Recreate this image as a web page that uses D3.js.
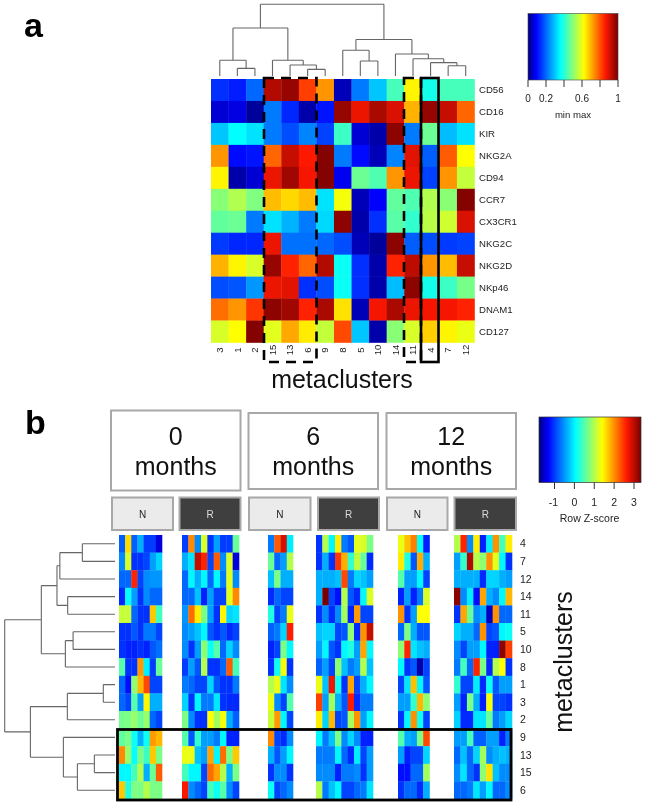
<!DOCTYPE html>
<html><head><meta charset="utf-8">
<script src="https://cdn.jsdelivr.net/npm/d3@7/dist/d3.min.js"></script>
<style>html,body{margin:0;padding:0;background:#fff}svg{display:block;filter:blur(0.35px)}text{font-family:"Liberation Sans",Arial,sans-serif}</style>
</head><body><svg id="c" width="645" height="806"></svg>
<script>
// ---------- Panel a data ----------
const markers = ["CD56","CD16","KIR","NKG2A","CD94","CCR7","CX3CR1","NKG2C","NKG2D","NKp46","DNAM1","CD127"];
const colsA = ["3","1","2","15","13","6","9","8","5","10","14","11","4","7","12"];
const valuesA = [
 [.14,.12,.2,.94,.97,.82,.73,.04,.22,.3,.43,.63,.38,.43,.43],
 [.06,.07,.02,.22,.13,.03,.11,.97,.88,.95,.9,.7,.97,.92,.78],
 [.3,.36,.33,.22,.17,.23,.16,.42,.06,.03,.98,.22,.47,.29,.33],
 [.73,.1,.11,.78,.92,.86,.99,.22,.1,.04,.23,.89,.19,.79,.62],
 [.63,.03,.06,.88,.96,.87,.99,.08,.47,.44,.73,.88,.16,.73,.56],
 [.5,.54,.49,.69,.66,.69,.33,.61,.04,.09,.46,.44,.54,.5,.99],
 [.46,.47,.22,.33,.28,.22,.32,.98,.03,.14,.45,.41,.55,.57,.9],
 [.15,.13,.13,.88,.21,.21,.2,.17,.04,.02,.98,.19,.17,.15,.16],
 [.7,.63,.58,.97,.85,.78,.94,.37,.14,.03,.85,.93,.73,.69,.92],
 [.17,.18,.25,.88,.89,.14,.17,.37,.14,.03,.29,.98,.38,.42,.48],
 [.77,.73,.83,.98,.96,.85,.95,.65,.04,.87,.95,.88,.87,.87,.85],
 [.58,.62,.99,.59,.71,.64,.56,.81,.3,.03,.5,.58,.67,.63,.6]
];
// dendrogram nodes: [height, left, right]; leaves are labels
const treeA = [10,
 [6.7,[2.2,"3",[1.07,"1","2"]],[2.2,"15",[1.53,"13",[.93,"6","9"]]]],
 [5.1,[3.6,"8",[2.1,"5","10"]],[3.07,"14",[2.4,"11",[1.86,"4",[1.44,"7","12"]]]]]];
const legendATicks = [0,.2,.4,.6,.8,1];
const legendALabels = {0:"0",.2:"0.2",.6:"0.6",1:"1"};

// ---------- Panel b data ----------
const rowsB = ["4","7","12","14","11","5","10","8","1","3","2","9","13","15","6"];
const treeB = [10,
 [6.68,[5.26,[5.0,[2.96,"4","7"],"12"],[4.29,"14","11"]],[4.5,[3.8,"5","10"],"8"]],
 [7.67,[4.32,[1.06,"1","3"],"2"],[4.68,"9",[3.41,[1.87,"13","15"],"6"]]]];
const month0N = [
 [-.85,1.6,-.85,-.4,-1.05,-1.05,-1.5],[-.6,1.2,-1.1,-1.1,-1,-.5,-.2],[-.8,-.8,2.6,-1,-.6,-.55,-.55],
 [-1.15,.05,-.5,-1.1,-.6,-.8,-.8],[1.1,1.1,-.8,-1.1,-1.1,1.7,.4],[-1.1,-1.1,-.9,-1.1,-.7,-.7,-1],
 [-1.1,-1.2,-1.2,-1.1,-1.2,-.9,-.75],[.5,-1.1,-1.1,1.95,-.05,-1.05,.6],[-.8,-1.3,.8,1.8,2.4,-1,-1],
 [-.8,-1,.5,-.5,1.45,-.4,-.4],[.65,.7,.85,.6,.85,-.8,-1],[.55,.7,.1,-.4,.1,1.95,1.8],
 [2.05,.85,.05,.7,.35,1.7,.7],[0,0,.4,1,-.4,.6,2.3],[1.7,.2,.7,.7,1,.7,.7]];
const month0R = [
 [-1.05,2.05,-.6,1.2,-1.1,-.5,-1.05,-1.05,.6],[-.4,-.1,3,2.6,-1,2.3,-.6,1.2,-1.5],[-.8,0,-.4,0,-.8,0,-.7,1.25,-.6],
 [-.8,-.8,-.3,-1.2,-.5,-1,-1,1.25,2.05],[-.55,2.2,1.5,.7,-.5,-1.1,1.45,-.2,-.1],[-.6,-.5,-.3,0,-.9,-1.1,-.9,-1.15,-1],
 [-.6,-1.1,-.5,.8,.1,.5,-.8,-.2,-.6],[-1.05,-.5,-.9,1,-1.1,-1.1,-.8,2.3,.4],[-.7,-.8,-1,-1,-.2,-.9,-1.1,-1.1,-.7],
 [-.2,-1.1,0,-.7,-.7,-.1,-1.1,-1.15,-1.15],[.7,-.6,-1.1,-1.1,1.4,.9,1.35,-.4,-.85],[.5,-.9,.3,-.5,-.5,-.7,0,-1.2,-1.2],
 [1.3,1.3,-.3,-.5,1.9,0,2.2,.7,1.7],[.4,0,0,-1,2.2,1.9,1,-.4,.7],[2.7,-.6,-.8,-1,.4,.1,.5,-.6,-1]];
const month6N = [
 [-.7,2.3,2.9,-.05],[.6,-.8,-.5,1],[-.3,.7,-.4,-.4],[-1.15,-.8,-1,-1],[.2,-1,-.7,1.3],[-.85,-.7,-.2,2.65],
 [-1.2,-1,.7,0],[-1.1,.1,1.35,-1.1],[1,1.3,-.1,-.6],[1.3,-.6,-1,.5],[1.1,1.95,0,-1],[2.05,-1,-1.15,-.6],
 [-.4,-.9,-.5,0],[-1.1,-.6,-.6,-1.1],[.1,-1,-.8,-.6]];
const month6R = [
 [-1.1,1,0,1.5,-.7,-.9,1.25,1.2,.7],[-1.1,-.4,-1.1,2.5,1.85,.3,1.05,.6,-1.15],[-.4,-.4,-.4,-.3,2.4,-.7,-.2,-.3,-.5],
 [-.4,3.4,-1,-1.3,1,-.9,-1.15,0,1.2],[-1.1,-.6,-1.15,-.6,.9,-1.2,1.95,-1,-1],[-.3,-.2,-.2,-1,-.9,.8,-1.15,2,3],
 [-.5,0,-.9,-1.1,0,.2,-.5,1.9,0],[-.85,-.5,-1,.8,-.3,-.7,-.5,1,-.3],[1.3,-.3,2.75,.1,-1.1,1.9,-1,-.4,0],
 [2.45,-.5,.9,-.4,-.9,2.65,-1.15,-.7,-.7],[1.5,-.2,1.8,-1,-.9,.9,2,-.5,0],[0,-.7,-.3,.7,-.6,-.2,-.6,-1.2,-1.2],
 [-.7,-.7,-.7,0,-.8,-1.15,-.05,-1,-.5],[-.6,-.6,-.6,-1.2,-.7,-.7,-.6,-1.1,-.5],[1,-.7,-.3,0,-1,-1,-.8,-.7,-.1]];
const month12N = [
 [1.3,1.75,2.1,.05,-1.2],[1.5,.2,-.9,1.85,-.4],[.5,-.5,-.5,0,-1],[-1.2,-.5,-1.2,-.7,1.2],[2,-1.1,-.5,1.4,1.4],
 [-.8,.7,-.4,-.9,-.9],[.8,2.6,-.1,-.3,-.4],[0,-1.1,-.9,-1.7,-1],[-1,-.1,1.75,0,-.9],[-.5,-.5,.3,1.8,.8],
 [-1.1,0,2,.1,-1],[.5,-.4,-.5,.7,2.4],[-.5,-1.2,-1,-1,-.2],[-1.3,-1.3,-.8,-.8,.9],[-1.1,-.8,-.8,-1.15,-.4]];
const month12R = [
 [1,2.6,-.6,1.5,-1.2,-.05,2,.4,1.5],[-.5,.3,3.1,1,.8,2,1.25,0,-1.1],[-.4,-.4,-.4,-.4,-1.15,-.2,-.2,-.4,-.5],
 [3.3,-.6,-.05,-1.3,1.9,-.4,-.6,0,1.8],[-1.1,1.9,.6,-.6,-.4,-1.6,2,-.8,-.8],[-.2,-.4,-.4,-.8,2,-1,-.9,0,.1],
 [-.6,-1,-.5,-.5,0,-1.2,-1.2,3.3,2.45],[-.7,.4,-.8,2.6,.7,-1.15,1,1.4,-1.1],[.3,-1,-1,-.05,-1.15,.1,-.9,-.5,-.5],
 [-.5,-1.2,.7,-.4,-1.2,1.35,-1,-1,-1.1],[-.2,-1.15,-1.15,-.1,-.1,.6,-.7,-.5,-.2],[-.5,-.5,.4,-.85,-.85,-.5,-.5,-1.2,-.7],
 [-.8,-.3,-.8,-.2,.9,-.6,-.4,-.3,-.4],[-.6,-.1,-.8,-1.1,.8,1.55,-.3,-.6,-.6],[-.8,-.8,-.7,-.1,-.5,0,-.8,-.8,-.6]];
const legendBTicks = [-1,0,1,2,3];
const monthLabels = ["0","6","12"];
const groupLabels = ["N","R"];

// ---------- helpers ----------
const svg = d3.select("#c");
const jetStops = [0,.09,.36,.62,.86,1];
const jetColors = ["#00007f","#0000ff","#00ffff","#ffff00","#ff1800","#7a0000"];
const jet = d3.scaleLinear().domain(jetStops).range(jetColors).clamp(true);
const zFrac = d3.scaleLinear().domain([-1.85,3.4]).range([0,1]);

function txt(x,y,s,size,o={}){
  return svg.append("text").attr("x",x).attr("y",y).text(s).attr("font-size",size)
    .attr("text-anchor",o.anchor||"middle").attr("fill",o.fill||"#222")
    .attr("font-weight",o.weight||"normal").attr("transform",o.rot?`rotate(${o.rot} ${x} ${y})`:null);
}
function gradient(id){
  const g = svg.append("defs").append("linearGradient").attr("id",id);
  jetStops.forEach((s,i)=>g.append("stop").attr("offset",s).attr("stop-color",jetColors[i]));
}
// Lay out a tree: pos(leaf) gives leaf coordinate; hpos(h) gives height coordinate.
function dendro(tree,pos,hpos,horizontal){
  const path = d3.path();
  const seg=(a,h1,b,h2)=>{ if(horizontal){path.moveTo(hpos(h1),a);path.lineTo(hpos(h2),b);} else {path.moveTo(a,hpos(h1));path.lineTo(b,hpos(h2));} };
  function walk(n){
    if(!Array.isArray(n)) return {c:pos(n),h:0};
    const l=walk(n[1]), r=walk(n[2]), h=n[0];
    seg(l.c,l.h,l.c,h); seg(r.c,r.h,r.c,h); seg(l.c,h,r.c,h);
    return {c:(l.c+r.c)/2,h};
  }
  walk(tree);
  svg.append("path").attr("d",path.toString()).attr("fill","none").attr("stroke","#666").attr("stroke-width",1.1);
}

// ---------- Panel a ----------
txt(24,37,"a",34,{anchor:"start",weight:"bold",fill:"#000"});
const xA = d3.scaleBand().domain(colsA).range([211,474.5]);
const yA = d3.scaleBand().domain(markers).range([79,342.5]);
markers.forEach((m,i)=>{
  svg.append("g").selectAll("rect").data(valuesA[i]).join("rect")
    .attr("x",(d,j)=>xA(colsA[j])).attr("y",yA(m)).attr("width",xA.bandwidth()+.3).attr("height",yA.bandwidth()+.3)
    .attr("fill",d=>jet(d));
  txt(479,yA(m)+yA.bandwidth()/2+3.5,m,9.6,{anchor:"start"});
});
colsA.forEach(c=>{
  const x=xA(c)+xA.bandwidth()/2+3.2;
  txt(x,350,c,9.6,{rot:-90});
});
const hA = d3.scaleLinear().domain([0,10]).range([76,4.3]);
dendro(treeA,l=>xA(l)+xA.bandwidth()/2,hA,false);

const dash="10,7";
svg.append("rect").attr("x",264).attr("y",78).attr("width",52.5).attr("height",284).attr("fill","none").attr("stroke","#000").attr("stroke-width",2.6).attr("stroke-dasharray",dash);
svg.append("rect").attr("x",404).attr("y",78).attr("width",17).attr("height",284).attr("fill","none").attr("stroke","#000").attr("stroke-width",2.6).attr("stroke-dasharray",dash);
svg.append("rect").attr("x",421).attr("y",78).attr("width",17.5).attr("height",284).attr("fill","none").attr("stroke","#000").attr("stroke-width",2.6);
txt(342,388,"metaclusters",25,{fill:"#111"});

// legend a
gradient("ga");
const la = d3.scaleLinear().domain([0,1]).range([528,618]);
svg.append("rect").attr("x",la(0)).attr("y",13.5).attr("width",la(1)-la(0)).attr("height",66.5).attr("fill","url(#ga)").attr("stroke","#444").attr("stroke-width",.6);
legendATicks.forEach(t=>{
  svg.append("line").attr("x1",la(t)).attr("x2",la(t)).attr("y1",80).attr("y2",87).attr("stroke","#333");
  if(legendALabels[t]) txt(la(t),102,legendALabels[t],10);
});
txt(573,118,"min max",9.6);

// ---------- Panel b ----------
txt(25,434,"b",34,{anchor:"start",weight:"bold",fill:"#000"});
const yB = d3.scaleBand().domain(rowsB).range([535,799]);
const blocks = [
  {v:month0N,r:[119,162]},{v:month0R,r:[182,239]},{v:month6N,r:[268,293]},
  {v:month6R,r:[316,373]},{v:month12N,r:[398,429.5]},{v:month12R,r:[454,512]}];
blocks.forEach(b=>{
  const x=d3.scaleBand().domain(d3.range(b.v[0].length)).range(b.r);
  rowsB.forEach((r,i)=>{
    svg.append("g").selectAll("rect").data(b.v[i]).join("rect")
      .attr("x",(d,j)=>x(j)).attr("y",yB(r)).attr("width",x.bandwidth()+.3).attr("height",yB.bandwidth()+.3)
      .attr("fill",d=>jet(zFrac(d)));
  });
});
rowsB.forEach(r=>txt(520,yB(r)+yB.bandwidth()/2+3.5,r,10.5,{anchor:"start"}));
const hB = d3.scaleLinear().domain([0,10]).range([115,4.7]);
dendro(treeB,l=>yB(l)+yB.bandwidth()/2,hB,true);
svg.append("rect").attr("x",117.5).attr("y",729.5).attr("width",393.5).attr("height",70.5).attr("fill","none").attr("stroke","#000").attr("stroke-width",2.8);
txt(572,662,"metaclusters",25,{rot:-90,fill:"#111"});

// month boxes
const monthBoxes=[[111,240.5,410.5,490.5],[248.5,378,413,489],[386.5,516,413,489]];
monthLabels.forEach((m,i)=>{
  const [x0,x1,y0,y1]=monthBoxes[i];
  svg.append("rect").attr("x",x0).attr("y",y0).attr("width",x1-x0).attr("height",y1-y0).attr("fill","#fff").attr("stroke","#a8a8a8").attr("stroke-width",2);
  const cx=(x0+x1)/2;
  txt(cx,445,m,25,{fill:"#111"});
  txt(cx,475,"months",25,{fill:"#111"});
});
const groupBoxes=[[112,173],[179.5,240.5],[249,310.5],[318,379],[387,447.5],[454.5,516]];
groupBoxes.forEach((b,i)=>{
  const dark=i%2===1;
  svg.append("rect").attr("x",b[0]).attr("y",497.5).attr("width",b[1]-b[0]).attr("height",32.5)
    .attr("fill",dark?"#3f3f3f":"#ebebeb").attr("stroke","#a8a8a8").attr("stroke-width",2);
  txt((b[0]+b[1])/2,518,groupLabels[i%2],10,{fill:dark?"#ddd":"#222"});
});

// legend b
gradient("gb");
const lb = d3.scaleLinear().domain([-1,3]).range([554.5,634]);
svg.append("rect").attr("x",539).attr("y",417).attr("width",102).attr("height",65.5).attr("fill","url(#gb)").attr("stroke","#333").attr("stroke-width",.7);
legendBTicks.forEach(t=>{
  svg.append("line").attr("x1",lb(t)).attr("x2",lb(t)).attr("y1",482.5).attr("y2",489).attr("stroke","#333");
  txt(lb(t)-(t<0?1:0),506,String(t),10.5);
});
txt(589.5,522,"Row Z-score",10.5);
</script></body></html>
